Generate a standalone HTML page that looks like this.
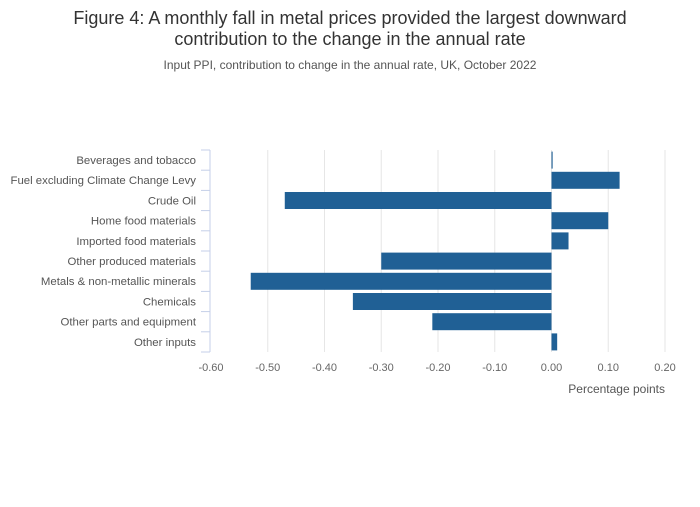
<!DOCTYPE html>
<html><head><meta charset="utf-8"><style>
body{margin:0;background:#fff;font-family:"Liberation Sans",sans-serif}
</style></head><body>
<svg width="700" height="502" viewBox="0 0 700 502">
<text x="350" y="24" text-anchor="middle" font-size="18" fill="#333">Figure 4: A monthly fall in metal prices provided the largest downward</text>
<text x="350" y="45" text-anchor="middle" font-size="18" fill="#333">contribution to the change in the annual rate</text>
<text x="350" y="69" text-anchor="middle" font-size="12" fill="#555">Input PPI, contribution to change in the annual rate, UK, October 2022</text>
<g id="grid"></g><g id="bars"></g><g id="ylab"></g><g id="xlab"></g>
<text x="665" y="393" text-anchor="end" font-size="12" fill="#555">Percentage points</text>
</svg>
<script>
const categories=["Beverages and tobacco","Fuel excluding Climate Change Levy","Crude Oil","Home food materials","Imported food materials","Other produced materials","Metals & non-metallic minerals","Chemicals","Other parts and equipment","Other inputs"];
const values=[0.002,0.12,-0.47,0.10,0.03,-0.30,-0.53,-0.35,-0.21,0.01];
const ticks=[-0.6,-0.5,-0.4,-0.3,-0.2,-0.1,0,0.1,0.2];
const tickLabels=["-0.60","-0.50","-0.40","-0.30","-0.20","-0.10","0.00","0.10","0.20"];
const NS="http://www.w3.org/2000/svg";
const xs=v=>211+(v+0.6)/0.8*454;
const plotTop=150,step=20.2;
const ys=i=>plotTop+i*step;
function mk(t,a,p){const e=document.createElementNS(NS,t);for(const k in a)e.setAttribute(k,a[k]);document.getElementById(p).appendChild(e);return e;}
ticks.forEach((t,i)=>{
 if(i>0){const g=mk("line",{x1:xs(t),x2:xs(t),y1:plotTop,y2:plotTop+10*step,stroke:"#e6e6e6"},"grid");
 
 }
 const l=mk("text",{x:xs(t),y:371,"text-anchor":"middle","font-size":"11",fill:"#666"},"xlab");l.textContent=tickLabels[i];
 
 
});
const ax=mk("line",{x1:210,x2:210,y1:plotTop,y2:plotTop+10*step,stroke:"#c5cfe8"},"grid");


for(let i=0;i<=10;i++){const t=mk("line",{x1:201,x2:210,y1:ys(i),y2:ys(i),stroke:"#c5cfe8"},"grid");
 
 }
categories.forEach((c,i)=>{
 const v=values[i];const x0=Math.min(xs(0),xs(v)),w=Math.max(Math.abs(xs(v)-xs(0)),1);
 const r=mk("rect",{x:x0,y:ys(i)+1.6,width:w,height:17,fill:"#206095"},"bars");
 
 
 const t=mk("text",{x:196,y:ys(i)+14,"text-anchor":"end","font-size":"11.4",fill:"#555"},"ylab");t.textContent=c;
 
 
});
</script>
</body></html>
